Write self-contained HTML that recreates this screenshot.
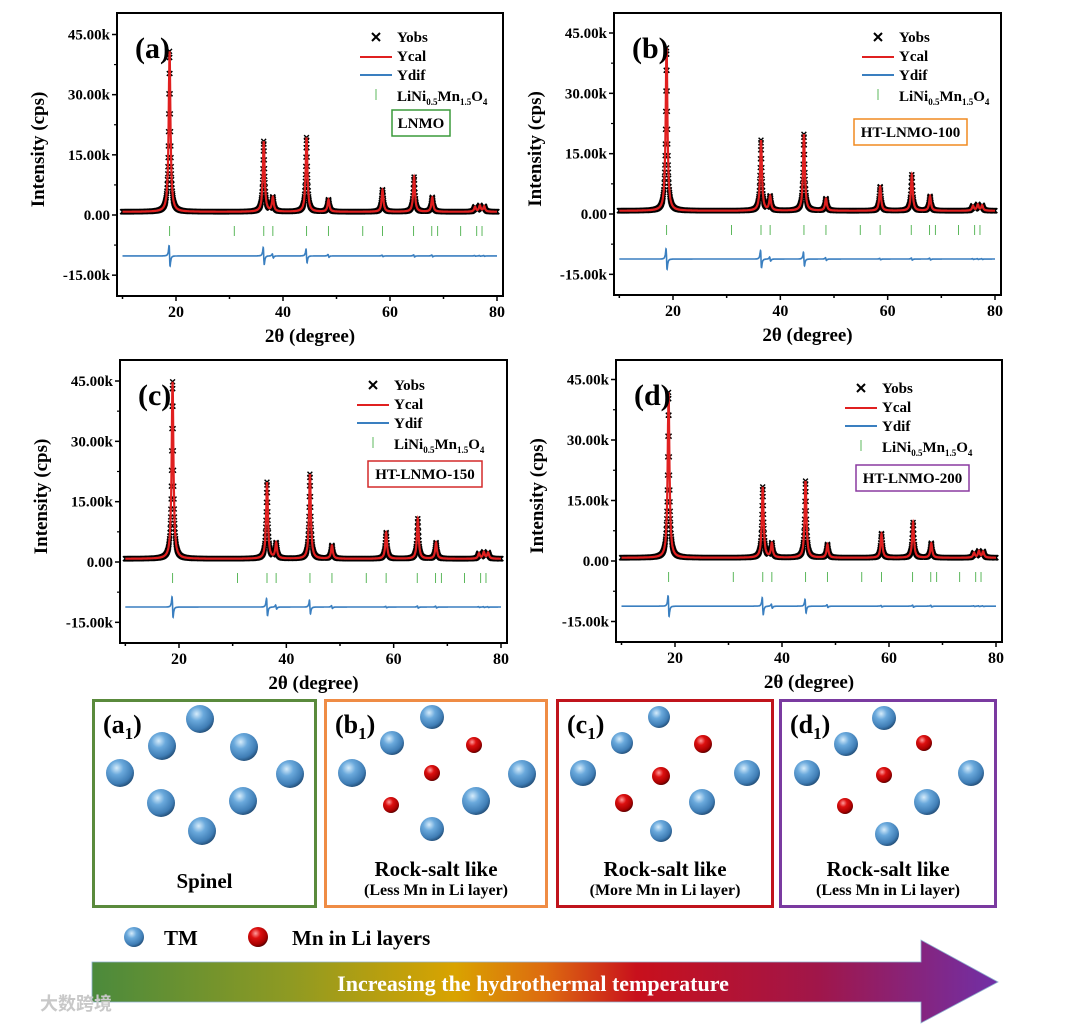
<!DOCTYPE html>
<html><head><meta charset="utf-8">
<style>
html,body{margin:0;padding:0;background:#fff;}
svg{display:block;font-family:"Liberation Serif",serif;font-weight:bold;}
</style></head>
<body>
<svg id="fig" width="1080" height="1024" viewBox="0 0 1080 1024">
<defs>
<radialGradient id="gBlue" cx="0.38" cy="0.32" r="0.7">
<stop offset="0" stop-color="#d6ecfb"/><stop offset="0.35" stop-color="#6aa9dc"/><stop offset="0.8" stop-color="#3f7db5"/><stop offset="1" stop-color="#24507a"/>
</radialGradient>
<radialGradient id="gRed" cx="0.38" cy="0.32" r="0.7">
<stop offset="0" stop-color="#ff9c9c"/><stop offset="0.35" stop-color="#dd1010"/><stop offset="0.8" stop-color="#a80000"/><stop offset="1" stop-color="#5a0000"/>
</radialGradient>
</defs>
<g id="charts"></g>
<g id="bottom"></g>
</svg>
<script>
// ---------- chart data ----------
const peakPos = [18.8, 36.4, 38.1, 44.4, 48.5, 58.6, 64.5, 67.9, 75.9, 76.8, 77.6];
const intensA = [40000, 17500, 3500, 18500, 3000, 5500, 8700, 3600, 1200, 1500, 1300];
const intensB = [40500, 17500, 3500, 19000, 3000, 6000, 9000, 3600, 1200, 1500, 1300];
const intensC = [44000, 19000, 3800, 21000, 3300, 6500, 10000, 4000, 1300, 1600, 1500];
const intensD = [41000, 17500, 3500, 19000, 3300, 6000, 8800, 3600, 1200, 1600, 1500];
const difAmp = [3000, 2500, 600, 2000, 400, 200, 300, 250, 100, 100, 100];
const braggPos = [18.8, 30.9, 36.4, 38.1, 44.4, 48.5, 54.9, 58.6, 64.4, 67.8, 68.9, 73.2, 76.2, 77.2];
const yTickVals = [45000, 30000, 15000, 0, -15000];
const yTickLabels = ["45.00k", "30.00k", "15.00k", "0.00", "-15.00k"];
const xTickVals = [20, 40, 60, 80];
const baseBg = 800;
const difBase = [-10200, -11200, -11200, -11200];
const panelLetters = ["(a)", "(b)", "(c)", "(d)"];
const sampleLabels = ["LNMO", "HT-LNMO-100", "HT-LNMO-150", "HT-LNMO-200"];
const sampleColors = ["#3a9a3a", "#f08a20", "#d42a2a", "#8a3aa0"];

const NS = "http://www.w3.org/2000/svg";
function mk(tag, attrs, parent) {
  const e = document.createElementNS(NS, tag);
  for (const k in attrs) e.setAttribute(k, attrs[k]);
  if (parent) parent.appendChild(e);
  return e;
}
const panels = [
  {L:117,T:13,R:503,B:296,x20:176,x80:497,y45:34.5,y0:215, lx:376, ly:37, bx:392, by:110, bw:58},
  {L:614,T:13,R:1001,B:295,x20:673,x80:995,y45:33,y0:214, lx:878, ly:37, bx:854, by:119, bw:113},
  {L:120,T:360,R:507,B:643,x20:179,x80:501,y45:381,y0:562, lx:373, ly:385, bx:368, by:461, bw:114},
  {L:616,T:360,R:1002,B:642,x20:675,x80:996,y45:379.5,y0:561, lx:861, ly:388, bx:856, by:465, bw:113}
];
const intensAll = [intensA, intensB, intensC, intensD];
const charts = document.getElementById('charts');

function profile(x, ints) {
  let y = baseBg;
  for (let i = 0; i < peakPos.length; i++) {
    const g = 0.2, d = (x - peakPos[i]) / g;
    y += ints[i] / (1 + d * d);
  }
  return y;
}
function difProfile(x, base) {
  let y = base;
  for (let i = 0; i < peakPos.length; i++) {
    const g = 0.16, d = (x - peakPos[i]) / g;
    y += difAmp[i] * (-2 * d) / ((1 + d * d) * (1 + d * d)) * 1.3;
  }
  return y;
}

panels.forEach((p, pi) => {
  const g = mk('g', {}, charts);
  
  
  const sx = v => p.x20 + (v - 20) * (p.x80 - p.x20) / 60;
  const sy = v => p.y0 - v * (p.y0 - p.y45) / 45000;
  const ints = intensAll[pi];
  const cid = 'clip' + pi;
  const cp = mk('clipPath', {id: cid}, g);
  mk('rect', {x: p.L, y: p.T, width: p.R - p.L, height: p.B - p.T}, cp);
  const plot = mk('g', {'clip-path': 'url(#' + cid + ')'}, g);
  let d = '';
  for (let x = 10; x <= 80.001; x += 0.04) {
    const X = sx(x), Y = sy(profile(x, ints));
    d += `M${(X-2.4).toFixed(1)} ${(Y-2.4).toFixed(1)}l4.8 4.8M${(X-2.4).toFixed(1)} ${(Y+2.4).toFixed(1)}l4.8 -4.8`;
  }
  const obs = mk('path', {d: d, stroke: '#000', 'stroke-width': 1.4, fill: 'none'}, plot);
  
  
  let pts = [];
  for (let x = 10; x <= 80.001; x += 0.02) pts.push(sx(x).toFixed(1) + ',' + sy(profile(x, ints)).toFixed(1));
  const cal = mk('polyline', {points: pts.join(' '), stroke: '#e02020', 'stroke-width': 2.2, fill: 'none'}, plot);
  
  
  pts = [];
  for (let x = 10; x <= 80.001; x += 0.02) pts.push(sx(x).toFixed(1) + ',' + sy(difProfile(x, difBase[pi])).toFixed(1));
  const dif = mk('polyline', {points: pts.join(' '), stroke: '#3a7fc0', 'stroke-width': 1.6, fill: 'none'}, plot);
  
  
  braggPos.forEach(b => {
    const t = mk('line', {x1: sx(b), x2: sx(b), y1: p.y0 + 11, y2: p.y0 + 21, stroke: '#5cb85c', 'stroke-width': 1}, plot);
    
    
  });
  const fr = mk('rect', {x: p.L, y: p.T, width: p.R - p.L, height: p.B - p.T, fill: 'none', stroke: '#000', 'stroke-width': 2}, g);
  
  
  yTickVals.forEach((v, i) => {
    const Y = sy(v);
    mk('line', {x1: p.L - 5, x2: p.L, y1: Y, y2: Y, stroke: '#000', 'stroke-width': 1.5}, g);
    const mY = sy(v + 7500);
    if (i > 0) mk('line', {x1: p.L - 3, x2: p.L, y1: mY, y2: mY, stroke: '#000', 'stroke-width': 1.2}, g);
    const t = mk('text', {x: p.L - 7, y: Y + 5, 'text-anchor': 'end', 'font-size': 15}, g);
    t.textContent = yTickLabels[i];
    
    
  });
  [10, 20, 30, 40, 50, 60, 70, 80].forEach(v => {
    const X = sx(v), major = xTickVals.includes(v);
    mk('line', {x1: X, x2: X, y1: p.B, y2: p.B + (major ? 5 : 3), stroke: '#000', 'stroke-width': 1.5}, g);
  });
  xTickVals.forEach(v => {
    const t = mk('text', {x: sx(v), y: p.B + 21, 'text-anchor': 'middle', 'font-size': 16}, g);
    t.textContent = v;
    
    
  });
  const xt = mk('text', {x: (p.L + p.R) / 2, y: p.B + 46, 'text-anchor': 'middle', 'font-size': 19}, g);
  xt.textContent = '2θ (degree)';
  
  
  const ytx = p.L - 73, yty = (p.T + p.B) / 2 - 5;
  const yt = mk('text', {x: ytx, y: yty, 'text-anchor': 'middle', 'font-size': 19, transform: `rotate(-90 ${ytx} ${yty})`}, g);
  yt.textContent = 'Intensity (cps)';
  
  
  const pl = mk('text', {x: p.L + 18, y: p.T + 45, 'font-size': 30}, g);
  pl.textContent = panelLetters[pi];
  
  
  const lg = mk('g', {}, g);
  
  
  mk('path', {d: `M${p.lx-4} ${p.ly-4}l8 8M${p.lx-4} ${p.ly+4}l8 -8`, stroke: '#000', 'stroke-width': 2}, lg);
  mk('line', {x1: p.lx - 16, x2: p.lx + 16, y1: p.ly + 20, y2: p.ly + 20, stroke: '#e02020', 'stroke-width': 2}, lg);
  mk('line', {x1: p.lx - 16, x2: p.lx + 16, y1: p.ly + 38, y2: p.ly + 38, stroke: '#3a7fc0', 'stroke-width': 2}, lg);
  mk('line', {x1: p.lx, x2: p.lx, y1: p.ly + 52, y2: p.ly + 63, stroke: '#5cb85c', 'stroke-width': 1}, lg);
  const names = ['Yobs', 'Ycal', 'Ydif'];
  names.forEach((n, i) => {
    const t = mk('text', {x: p.lx + 21, y: p.ly + 5 + i * 19, 'font-size': 15}, lg);
    t.textContent = n;
    
    
  });
  const ph = mk('text', {x: p.lx + 21, y: p.ly + 64, 'font-size': 15}, lg);
  ph.innerHTML = 'LiNi<tspan font-size="9" dy="4">0.5</tspan><tspan dy="-4">Mn</tspan><tspan font-size="9" dy="4">1.5</tspan><tspan dy="-4">O</tspan><tspan font-size="9" dy="4">4</tspan>';
  
  
  const sb = mk('g', {}, g);
  
  
  mk('rect', {x: p.bx, y: p.by, width: p.bw, height: 26, fill: '#fff', stroke: sampleColors[pi], 'stroke-width': 1.5}, sb);
  const st = mk('text', {x: p.bx + p.bw / 2, y: p.by + 18, 'text-anchor': 'middle', 'font-size': 15}, sb);
  st.textContent = sampleLabels[pi];
});

// ---------- schematic ----------
const bottom = document.getElementById('bottom');
const boxes = [
  {x:92, w:225, c:'#5a8a3c', lab:'a', t1:'Spinel', t2:''},
  {x:324, w:224, c:'#ef8c45', lab:'b', t1:'Rock-salt like', t2:'(Less Mn in Li layer)'},
  {x:556, w:218, c:'#c0141c', lab:'c', t1:'Rock-salt like', t2:'(More Mn in Li layer)'},
  {x:779, w:218, c:'#7a3aa0', lab:'d', t1:'Rock-salt like', t2:'(Less Mn in Li layer)'}
];
const blueSph = [
  [[200,719,14],[162,746,14],[244,747,14],[120,773,14],[290,774,14],[161,803,14],[243,801,14],[202,831,14]],
  [[432,717,12],[392,743,12],[352,773,14],[522,774,14],[476,801,14],[432,829,12]],
  [[659,717,11],[622,743,11],[583,773,13],[747,773,13],[702,802,13],[661,831,11]],
  [[884,718,12],[846,744,12],[807,773,13],[971,773,13],[927,802,13],[887,834,12]]
];
const redSph = [
  [],
  [[474,745,8],[432,773,8],[391,805,8]],
  [[703,744,9],[661,776,9],[624,803,9]],
  [[924,743,8],[884,775,8],[845,806,8]]
];
boxes.forEach((b, i) => {
  const g = mk('g', {}, bottom);
  
  
  mk('rect', {x: b.x + 1.5, y: 700.5, width: b.w - 3, height: 206, fill: '#fff', stroke: b.c, 'stroke-width': 3}, g);
  const l = mk('text', {x: b.x + 11, y: 733, 'font-size': 26}, g);
  l.innerHTML = '(' + b.lab + '<tspan font-size="17" dy="6">1</tspan><tspan dy="-6">)</tspan>';
  blueSph[i].forEach(s => {
    const c = mk('circle', {cx: s[0], cy: s[1], r: s[2], fill: 'url(#gBlue)'}, g);
    
    
  });
  redSph[i].forEach(s => {
    const c = mk('circle', {cx: s[0], cy: s[1], r: s[2], fill: 'url(#gRed)'}, g);
    
    
  });
  const cx = b.x + b.w / 2;
  if (b.t2) {
    const t1 = mk('text', {x: cx, y: 876, 'text-anchor': 'middle', 'font-size': 21}, g);
    t1.textContent = b.t1;
    const t2 = mk('text', {x: cx, y: 895, 'text-anchor': 'middle', 'font-size': 16}, g);
    t2.textContent = b.t2;
  } else {
    const t1 = mk('text', {x: cx, y: 888, 'text-anchor': 'middle', 'font-size': 21}, g);
    t1.textContent = b.t1;
  }
});
</script>
<svg width="1080" height="1024" viewBox="0 0 1080 1024" style="position:absolute;left:0;top:0;font-family:'Liberation Serif',serif;font-weight:bold">
<defs>
<radialGradient id="gBlue2" cx="0.38" cy="0.32" r="0.7"><stop offset="0" stop-color="#d6ecfb"/><stop offset="0.35" stop-color="#6aa9dc"/><stop offset="0.8" stop-color="#3f7db5"/><stop offset="1" stop-color="#24507a"/></radialGradient>
<radialGradient id="gRed2" cx="0.38" cy="0.32" r="0.7"><stop offset="0" stop-color="#ff9c9c"/><stop offset="0.35" stop-color="#dd1010"/><stop offset="0.8" stop-color="#a80000"/><stop offset="1" stop-color="#5a0000"/></radialGradient>
<linearGradient id="gArrow2" gradientUnits="userSpaceOnUse" x1="92" x2="1000" y1="0" y2="0">
<stop offset="0" stop-color="#4b8a3c"/><stop offset="0.22" stop-color="#8f9a22"/><stop offset="0.4" stop-color="#d9a300"/><stop offset="0.5" stop-color="#dd6a10"/><stop offset="0.6" stop-color="#c8101c"/><stop offset="0.8" stop-color="#a0164a"/><stop offset="1" stop-color="#7030a8"/>
</linearGradient>
</defs>
<g>
<circle cx="134" cy="937" r="10" fill="url(#gBlue2)"/>
<text x="164" y="945" font-size="21">TM</text>
<circle cx="258" cy="937" r="10" fill="url(#gRed2)"/>
<text x="292" y="945" font-size="21">Mn in Li layers</text>
</g>
<g>
<path d="M92 962 L921 962 L921 940 L998 982 L921 1023 L921 1002 L92 1002 Z" fill="url(#gArrow2)" stroke="#8fb0d0" stroke-width="0.8"/>
<text x="533" y="991" text-anchor="middle" font-size="22" fill="#fff">Increasing the hydrothermal  temperature</text>
</g>
<text x="40" y="1010" font-size="18" fill="#c8c8c8" font-family="'Noto Sans CJK SC',sans-serif">大数跨境</text>
</svg>
</body></html>
